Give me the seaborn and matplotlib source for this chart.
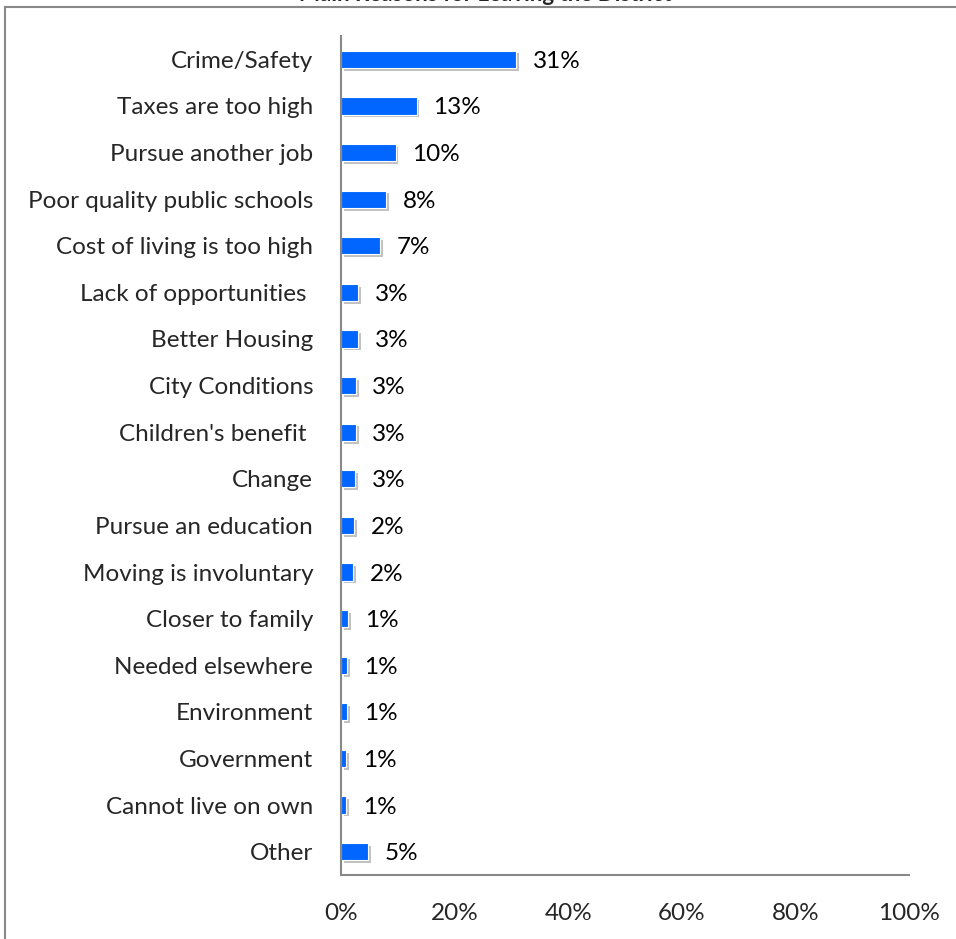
import matplotlib
matplotlib.use("Agg")
import matplotlib.pyplot as plt
import matplotlib.patheffects as pe
from matplotlib.patches import Rectangle
from matplotlib.ticker import FixedLocator, PercentFormatter
import seaborn as sns
import pandas as pd

reasons = [
    "Crime/Safety", "Taxes are too high", "Pursue another job",
    "Poor quality public schools", "Cost of living is too high",
    "Lack of opportunities ", "Better Housing", "City Conditions",
    "Children's benefit ", "Change", "Pursue an education",
    "Moving is involuntary", "Closer to family", "Needed elsewhere",
    "Environment", "Government", "Cannot live on own", "Other",
]
share = [30.8, 13.3, 9.6, 8.0, 6.9, 3.0, 3.0, 2.6, 2.6, 2.5, 2.3, 2.1,
         1.3, 1.1, 1.1, 0.9, 0.9, 4.8]
shown = [31, 13, 10, 8, 7, 3, 3, 3, 3, 3, 2, 2, 1, 1, 1, 1, 1, 5]

df = pd.DataFrame({"reason": reasons, "share": share})

sns.set_style("white")
plt.rcParams["font.family"] = ["Lato", "DejaVu Sans"]

fig = plt.figure(figsize=(9.56, 9.39), dpi=100)
ax = fig.add_axes([341 / 956, 1 - 875 / 939, 568 / 956, (875 - 36) / 939])

sns.barplot(data=df, x="share", y="reason", orient="h", color="#0066ff",
            saturation=1, width=0.37, ax=ax)
for bar in ax.patches:
    bar.set_path_effects([pe.SimplePatchShadow(offset=(2, -2), shadow_rgbFace="#999999", alpha=0.6),
                          pe.Normal()])
    bar.set_edgecolor("white")
    bar.set_linewidth(0.8)

labels = ax.bar_label(ax.containers[0], labels=[f"{v}%" for v in shown], padding=12,
                      fontsize=17.5, color="black")
for t in labels:
    t.set_va("center_baseline")

ax.set_xlim(0, 100)
ax.set_ylim(len(reasons) - 0.5, -0.5)
ax.xaxis.set_major_locator(FixedLocator([0, 20, 40, 60, 80, 100]))
ax.xaxis.set_major_formatter(PercentFormatter(decimals=0))
ax.yaxis.set_minor_locator(FixedLocator([i - 0.5 for i in range(len(reasons) + 1)]))
ax.set_xlabel("")
ax.set_ylabel("")

ax.tick_params(axis="x", which="major", direction="out", length=6, width=1.2,
               color="#888888", labelsize=17.5, pad=14)
ax.tick_params(axis="y", which="major", length=0, labelsize=17.5, pad=20)
ax.tick_params(axis="y", which="minor", direction="out", length=6, width=1.2,
               color="#888888")

for side in ["top", "right"]:
    ax.spines[side].set_visible(False)
for side in ["left", "bottom"]:
    ax.spines[side].set_color("#888888")
    ax.spines[side].set_linewidth(1.5)

fig.patches.append(Rectangle((5 / 956, -0.1), 1.2, 1.1 - 7 / 939, transform=fig.transFigure,
                             fill=False, edgecolor="#888888", linewidth=1.5))
# title is cropped at the top edge in the source image
fig.text(485 / 956, 1 - 1 / 939, "Main Reasons for Leaving the District", ha="center",
         va="baseline", fontsize=16, fontweight="bold")

fig.savefig("out.png", dpi=100)
